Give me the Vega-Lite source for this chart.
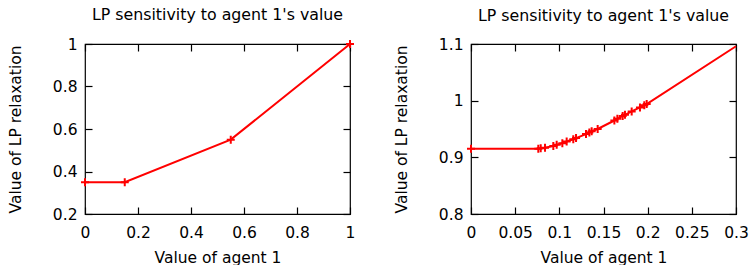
{
  "$schema": "https://vega.github.io/schema/vega-lite/v6.json",
  "padding": {"left": 7, "top": 6, "right": 0, "bottom": 0},
  "config": {
    "font": "DejaVu Sans",
    "view": {"stroke": "black", "strokeWidth": 1.2},
    "axis": {"domain": false, "grid": false, "tickSize": -7, "tickColor": "black", "tickWidth": 1.2,
      "labelFont": "DejaVu Sans", "labelFontSize": 15.5, "labelColor": "black", "labelOverlap": false, "labelFlush": false,
      "titleFont": "DejaVu Sans", "titleFontSize": 15.5, "titleFontWeight": "normal", "titleColor": "black", "format": "~g"},
    "axisX": {"labelPadding": 18, "titlePadding": 10},
    "axisY": {"labelPadding": 15, "titlePadding": 29},
    "title": {"fontSize": 15.8, "fontWeight": "normal", "font": "DejaVu Sans", "color": "black", "offset": 12, "baseline": "alphabetic"}
  },
  "datasets": {
    "left": [
      {"x": 0, "y": 0.35, "m": true},
      {"x": 0.15, "y": 0.35, "m": true},
      {"x": 0.55, "y": 0.55, "m": true},
      {"x": 1, "y": 1, "m": true}
    ],
    "right": [
      {"x": 0, "y": 0.915, "m": true},
      {"x": 0.0762, "y": 0.915, "m": true},
      {"x": 0.0789, "y": 0.916, "m": true},
      {"x": 0.0838, "y": 0.917, "m": true},
      {"x": 0.0932, "y": 0.920, "m": true},
      {"x": 0.0970, "y": 0.922, "m": true},
      {"x": 0.1034, "y": 0.925, "m": true},
      {"x": 0.1083, "y": 0.928, "m": true},
      {"x": 0.1158, "y": 0.932, "m": true},
      {"x": 0.1189, "y": 0.934, "m": true},
      {"x": 0.1302, "y": 0.941, "m": true},
      {"x": 0.1340, "y": 0.944, "m": true},
      {"x": 0.1366, "y": 0.946, "m": true},
      {"x": 0.1434, "y": 0.950, "m": true},
      {"x": 0.1623, "y": 0.965, "m": true},
      {"x": 0.1657, "y": 0.968, "m": true},
      {"x": 0.1717, "y": 0.973, "m": true},
      {"x": 0.1743, "y": 0.975, "m": true},
      {"x": 0.1819, "y": 0.981, "m": true},
      {"x": 0.1913, "y": 0.988, "m": true},
      {"x": 0.1962, "y": 0.992, "m": true},
      {"x": 0.1989, "y": 0.994, "m": true},
      {"x": 0.3, "y": 1.096, "m": false}
    ]
  },
  "spacing": 121,
  "bounds": "flush",
  "hconcat": [
    {
      "title": "LP sensitivity to agent 1's value",
      "width": 265, "height": 170,
      "layer": [
        {
          "data": {"name": "left"},
          "mark": {"type": "line", "color": "red", "strokeWidth": 2},
          "encoding": {
            "x": {"field": "x", "type": "quantitative", "scale": {"domain": [0, 1], "nice": false, "zero": false},
              "axis": {"orient": "bottom", "values": [0, 0.2, 0.4, 0.6, 0.8, 1], "title": "Value of agent 1"}},
            "y": {"field": "y", "type": "quantitative", "scale": {"domain": [0.2, 1], "nice": false, "zero": false},
              "axis": {"orient": "left", "values": [0.2, 0.4, 0.6, 0.8, 1], "title": "Value of LP relaxation"}}
          }
        },
        {
          "data": {"name": "left"},
          "transform": [{"filter": "datum.m"}],
          "mark": {"type": "point", "shape": "M-1,0H1M0,-1V1", "size": 64, "filled": false, "stroke": "red", "strokeWidth": 2, "opacity": 1},
          "encoding": {
            "x": {"field": "x", "type": "quantitative", "axis": {"orient": "top", "labels": false, "title": null, "values": [0, 0.2, 0.4, 0.6, 0.8, 1]}},
            "y": {"field": "y", "type": "quantitative", "axis": {"orient": "right", "labels": false, "title": null, "values": [0.2, 0.4, 0.6, 0.8, 1]}}
          }
        }
      ]
    },
    {
      "title": "LP sensitivity to agent 1's value",
      "width": 265, "height": 170,
      "layer": [
        {
          "data": {"name": "right"},
          "mark": {"type": "line", "color": "red", "strokeWidth": 2},
          "encoding": {
            "x": {"field": "x", "type": "quantitative", "scale": {"domain": [0, 0.3], "nice": false, "zero": false},
              "axis": {"orient": "bottom", "values": [0, 0.05, 0.1, 0.15, 0.2, 0.25, 0.3], "title": "Value of agent 1"}},
            "y": {"field": "y", "type": "quantitative", "scale": {"domain": [0.8, 1.1], "nice": false, "zero": false},
              "axis": {"orient": "left", "values": [0.8, 0.9, 1, 1.1], "title": "Value of LP relaxation"}}
          }
        },
        {
          "data": {"name": "right"},
          "transform": [{"filter": "datum.m"}],
          "mark": {"type": "point", "shape": "M-1,0H1M0,-1V1", "size": 64, "filled": false, "stroke": "red", "strokeWidth": 2, "opacity": 1},
          "encoding": {
            "x": {"field": "x", "type": "quantitative", "axis": {"orient": "top", "labels": false, "title": null, "values": [0, 0.05, 0.1, 0.15, 0.2, 0.25, 0.3]}},
            "y": {"field": "y", "type": "quantitative", "axis": {"orient": "right", "labels": false, "title": null, "values": [0.8, 0.9, 1, 1.1]}}
          }
        }
      ]
    }
  ]
}
